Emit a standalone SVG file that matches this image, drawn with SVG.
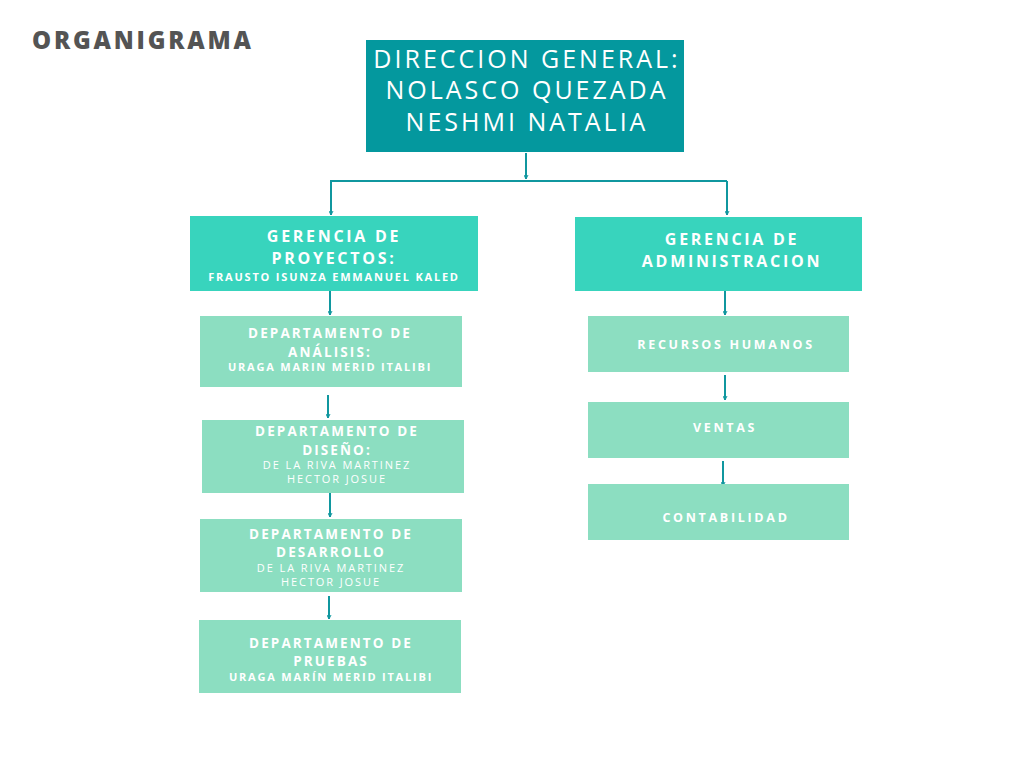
<svg xmlns="http://www.w3.org/2000/svg" width="1024" height="768" viewBox="0 0 1024 768">
<defs>
<marker id="ah" viewBox="0 0 10 10" refX="9" refY="5" markerWidth="5" markerHeight="5" orient="auto" markerUnits="userSpaceOnUse">
<path d="M1,1 L9,5 L1,9" fill="none" stroke="#10979f" stroke-width="2"/>
</marker>
<style>
.bg{fill:#ffffff}
.top{fill:#04989e}
.ger{fill:#38d4bd}
.dep{fill:#8cdec1}
.t{font-family:"Open Sans","Liberation Sans",sans-serif;fill:#ffffff;text-anchor:middle}
.tt{font-size:25px;letter-spacing:3px;font-weight:400}
.h{font-size:16px;font-weight:700;letter-spacing:2.7px}
.d{font-size:13.5px;font-weight:700;letter-spacing:2.1px}
.s{font-size:11px;font-weight:700;letter-spacing:1.8px}
.s2{font-size:11px;font-weight:400;letter-spacing:1.9px}
.r{font-size:12.5px;font-weight:700;letter-spacing:2.7px}
.c{fill:none;stroke:#10979f;stroke-width:2}
.title{font-family:"Open Sans","Liberation Sans",sans-serif;font-size:24px;font-weight:800;letter-spacing:2.8px;fill:#545454}
</style>
</defs>
<rect class="bg" x="0" y="0" width="1024" height="768"/>
<text class="title" x="32" y="49">ORGANIGRAMA</text>

<g id="connectors">
<path class="c" d="M526,153 V179" marker-end="url(#ah)"/>
<path class="c" d="M330,181 H727"/>
<path class="c" d="M331,181 V215" marker-end="url(#ah)"/>
<path class="c" d="M727,181 V215" marker-end="url(#ah)"/>
<path class="c" d="M330,291 V315" marker-end="url(#ah)"/>
<path class="c" d="M328,395 V418" marker-end="url(#ah)"/>
<path class="c" d="M330,493 V517" marker-end="url(#ah)"/>
<path class="c" d="M329,596 V619" marker-end="url(#ah)"/>
<path class="c" d="M725,291 V315" marker-end="url(#ah)"/>
<path class="c" d="M725,375 V400" marker-end="url(#ah)"/>
<path class="c" d="M723,461 V486" marker-end="url(#ah)"/>
</g>

<g id="direccion">
<rect class="top" x="366" y="40" width="318" height="112"/>
<text class="t tt" x="527" y="68">DIRECCION GENERAL:</text>
<text class="t tt" x="527" y="99">NOLASCO QUEZADA</text>
<text class="t tt" x="527" y="131">NESHMI NATALIA</text>
</g>

<g id="gerencia-proyectos">
<rect class="ger" x="190" y="216" width="288" height="75"/>
<text class="t h" x="334" y="242">GERENCIA DE</text>
<text class="t h" x="334" y="264">PROYECTOS:</text>
<text class="t s" x="334" y="281">FRAUSTO ISUNZA EMMANUEL KALED</text>
</g>

<g id="gerencia-administracion">
<rect class="ger" x="575" y="217" width="287" height="74"/>
<text class="t h" x="732" y="245">GERENCIA DE</text>
<text class="t h" x="732" y="267">ADMINISTRACION</text>
</g>

<g id="dep-analisis">
<rect class="dep" x="200" y="316" width="262" height="71"/>
<text class="t d" x="330" y="338">DEPARTAMENTO DE</text>
<text class="t d" x="330" y="357">ANÁLISIS:</text>
<text class="t s" x="330" y="371">URAGA MARIN MERID ITALIBI</text>
</g>

<g id="dep-diseno">
<rect class="dep" x="202" y="420" width="262" height="73"/>
<text class="t d" x="337" y="436">DEPARTAMENTO DE</text>
<text class="t d" x="337" y="455">DISEÑO:</text>
<text class="t s2" x="337" y="469">DE LA RIVA MARTINEZ</text>
<text class="t s2" x="337" y="483">HECTOR JOSUE</text>
</g>

<g id="dep-desarrollo">
<rect class="dep" x="200" y="519" width="262" height="73"/>
<text class="t d" x="331" y="539">DEPARTAMENTO DE</text>
<text class="t d" x="331" y="557">DESARROLLO</text>
<text class="t s2" x="331" y="572">DE LA RIVA MARTINEZ</text>
<text class="t s2" x="331" y="586">HECTOR JOSUE</text>
</g>

<g id="dep-pruebas">
<rect class="dep" x="199" y="620" width="262" height="73"/>
<text class="t d" x="331" y="648">DEPARTAMENTO DE</text>
<text class="t d" x="331" y="666">PRUEBAS</text>
<text class="t s" x="331" y="681">URAGA MARÍN MERID ITALIBI</text>
</g>

<g id="recursos-humanos">
<rect class="dep" x="588" y="316" width="261" height="56"/>
<text class="t r" x="726" y="349">RECURSOS HUMANOS</text>
</g>

<g id="ventas">
<rect class="dep" x="588" y="402" width="261" height="56"/>
<text class="t r" x="725" y="432">VENTAS</text>
</g>

<g id="contabilidad">
<rect class="dep" x="588" y="484" width="261" height="56"/>
<text class="t r" x="726" y="522">CONTABILIDAD</text>
</g>
</svg>
